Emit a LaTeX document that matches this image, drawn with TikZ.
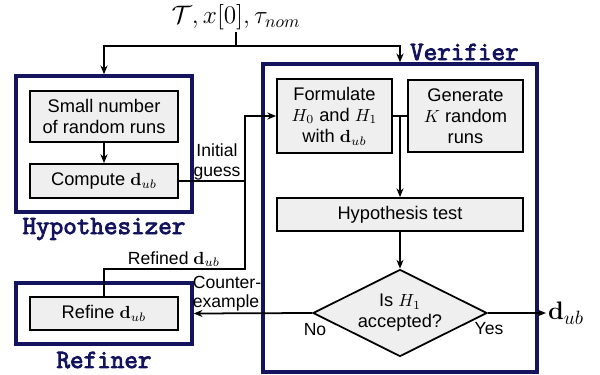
\documentclass[tikz,border=0pt]{standalone}
\usepackage{amsmath,amssymb}
\usepackage[no-math]{fontspec}
\setsansfont{Liberation Sans}
\newfontfamily\grpfont[FakeBold=3.2]{Latin Modern Mono}
\usepackage{tikz}
\usetikzlibrary{positioning,arrows.meta,calc,shapes.geometric}
\definecolor{hvnavy}{HTML}{14145E}
\definecolor{hvgray}{HTML}{EFEFEF}
\newcommand{\dub}{\mathbf{d}_{ub}}

\begin{document}
\begin{tikzpicture}[font=\sffamily\fontsize{10.4}{12}\selectfont,>={Stealth[length=5pt,width=4pt]},
  blk/.style={rectangle,draw=black,fill=hvgray,line width=1pt,align=center,inner sep=2pt},
  grp/.style={rectangle,draw=hvnavy,line width=1.9pt},
  ttl/.style={font=\grpfont\fontsize{15}{16}\selectfont,text=hvnavy,inner sep=1pt},
  lbl/.style={font=\sffamily\fontsize{10}{11}\selectfont,align=center,inner sep=1pt},
  ar/.style={->,line width=1pt},
  ln/.style={line width=1pt}]
  \useasboundingbox (0,0) rectangle (12,7.5);
  % inputs
  \node[inner sep=1pt] (inp) at (4.72,7.16) {\fontsize{14}{16}\selectfont$\mathcal{T},x[0],\tau_{nom}$};
  \coordinate (ij) at (4.72,6.58);
  % hypothesizer
  \node[grp,minimum width=3.52cm,minimum height=2.72cm] (hyp) at (2.08,4.62) {};
  \node[blk,minimum width=2.96cm,minimum height=1.02cm] (few) at (2.08,5.17) {Small number\\of random runs};
  \node[blk,minimum width=2.96cm,minimum height=0.68cm] (cmp) at (2.08,3.88) {Compute $\dub$};
  \node[ttl] at (2.08,2.92) {Hypothesizer};
  % refiner
  \node[grp,minimum width=3.52cm,minimum height=1.22cm] (rfg) at (2.08,1.23) {};
  \node[blk,minimum width=2.96cm,minimum height=0.66cm] (rfn) at (2.08,1.23) {Refine $\dub$};
  \node[ttl] at (2.08,0.3) {Refiner};
  % verifier
  \node[grp,minimum width=5.48cm,minimum height=6.16cm] (ver) at (8.0,3.14) {};
  \node[ttl,anchor=west] at (8.16,6.46) {Verifier};
  \node[blk,minimum width=2.3cm,minimum height=1.48cm] (frm) at (6.69,5.18) {Formulate\\$H_0$ and $H_1$\\with $\dub$};
  \node[blk,minimum width=2.3cm,minimum height=1.44cm] (gen) at (9.31,5.18) {Generate\\$K$ random\\runs};
  \node[blk,minimum width=4.92cm,minimum height=0.66cm] (tst) at (8.0,3.21) {Hypothesis test};
  \node[blk,diamond,aspect=2,inner sep=0pt,minimum width=3.48cm,minimum height=1.74cm] (dec) at (8.0,1.24) {Is $H_1$\\accepted?};
  \node[anchor=west,inner sep=1pt] (out) at (10.92,1.24) {\fontsize{15}{17}\selectfont$\dub$};
  % wiring
  \coordinate (gj) at (4.9,2.12);
  \draw[ln] (inp.south) -- (ij);
  \draw[ar] (ij) -| (hyp.north);
  \draw[ar] (ij) -| (ver.north);
  \draw[ar] (few) -- (cmp);
  \draw[ln] (cmp.east) -- (cmp.east -| gj);
  \draw[ar] (rfn.north) |- (gj) |- (frm.west);
  \draw[ln] (frm.east) -- (gen.west);
  \draw[ar] (frm.east -| tst.north) -- (tst.north);
  \draw[ar] (tst) -- (dec);
  \draw[ar] (dec.west) -- (rfg.east);
  \draw[ar] (dec.east) -- (out.west);
  % edge labels
  \node[lbl] at (4.34,4.26) {Initial\\guess};
  \node[lbl] at (3.48,2.32) {Refined $\dub$};
  \node[lbl,align=left] at (4.54,1.62) {Counter-\\example};
  \node[lbl] at (6.3,0.9) {No};
  \node[lbl] at (9.78,0.92) {Yes};
\end{tikzpicture}
\end{document}
